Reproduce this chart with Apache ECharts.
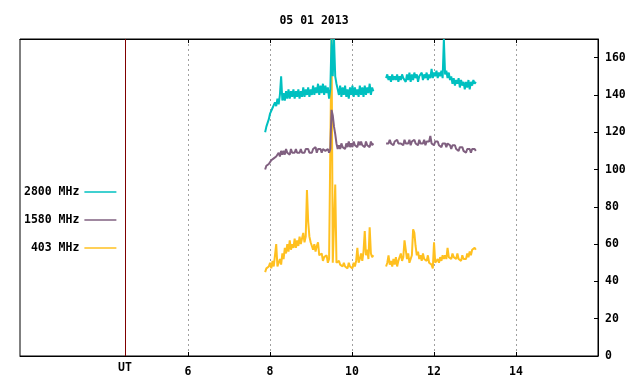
<!DOCTYPE html>
<html><head><meta charset="utf-8">
<script src="https://cdn.jsdelivr.net/npm/echarts@6/dist/echarts.min.js"></script>
<style>html,body{margin:0;padding:0;background:#fff}#c{width:640px;height:384px}</style>
</head><body><div id="c"></div>
<script>
const title = '05 01 2013';
const seriesNames = ['2800 MHz', '1580 MHz', '403 MHz'];
const xTicks = [6, 8, 10, 12, 14];
const yTicks = [0, 20, 40, 60, 80, 100, 120, 140, 160];
const utTime = 4.46;
const seg1Start = 7.88, seg2Start = 10.83, sampleStep = 0.03;

const f2800a = [120,123,125,127,130,129,133,132,136,134,138,135,140,150,137,141,137,142,138,143,138,142,139,143,138,142,139,143,138,142,139,144,139,143,140,144,139,143,140,145,140,144,141,146,140,145,141,146,140,145,141,144,138,143,170,150,170,150,146,143,140,145,139,144,140,145,139,143,138,144,140,145,139,144,140,143,139,145,140,144,139,145,140,144,141,146,140,144,142];
const f2800b = [149,151,148,150,147,151,148,150,148,151,147,150,148,151,149,150,147,151,148,152,147,151,148,152,149,151,147,150,149,152,148,151,149,152,148,151,149,154,149,152,150,153,149,152,150,153,149,170,151,153,149,152,148,150,146,149,145,148,146,149,144,148,145,147,143,147,144,148,143,147,145,148,146,147];
const f1580a = [100,102,101,103,103,105,104,106,105,107,106,109,107,110,108,110,108,111,109,110,108,111,109,110,109,111,109,110,109,111,109,110,109,111,110,111,109,110,109,111,110,112,109,111,110,111,109,111,110,110,109,111,109,111,132,129,123,119,114,111,113,111,114,112,113,111,114,112,115,112,114,112,115,113,114,112,115,113,115,113,114,112,115,113,114,112,115,113,114];
const f1580b = [114,115,114,116,114,115,113,115,114,116,114,115,114,115,113,116,114,115,114,116,113,115,114,116,114,115,113,116,114,115,114,116,113,115,114,115,118,114,115,113,115,114,115,113,114,112,114,113,114,112,114,113,113,111,113,112,113,111,112,110,112,111,112,110,111,109,111,110,111,109,111,110,111,110];
const f403a = [45,47,46,48,50,47,51,48,47,60,48,50,52,49,55,52,58,55,60,56,62,57,60,58,63,58,62,59,64,60,63,66,61,64,89,72,64,61,62,57,60,56,59,61,54,53,55,51,53,52,54,50,52,51,170,50,51,92,50,49,51,49,50,48,50,48,49,47,50,48,49,47,50,48,51,58,50,52,55,51,56,67,54,57,52,69,55,53,54];
const f403b = [48,50,54,49,51,48,52,49,53,48,51,50,55,51,53,62,57,52,55,50,51,54,68,66,59,54,56,52,54,51,55,52,53,51,54,50,51,49,47,61,50,49,52,50,53,51,54,52,54,52,58,53,54,52,55,53,54,52,55,52,53,51,54,52,53,52,55,53,56,54,57,56,58,57];

const colors = {'2800 MHz': '#00c0c0', '1580 MHz': '#806080', '403 MHz': '#ffc020'};

function build(a, b) {
  const out = [];
  a.forEach((v, i) => out.push([seg1Start + i * sampleStep, v]));
  out.push([(seg1Start + (a.length - 1) * sampleStep + seg2Start) / 2, null]);
  b.forEach((v, i) => out.push([seg2Start + i * sampleStep, v]));
  return out;
}
const dataMap = {
  '2800 MHz': build(f2800a, f2800b),
  '1580 MHz': build(f1580a, f1580b),
  '403 MHz': build(f403a, f403b)
};

const font = "'DejaVu Sans Mono', 'Liberation Mono', monospace";
const drawOrder = ['403 MHz', '1580 MHz', '2800 MHz'];
const series = drawOrder.map((n, k) => ({
  name: n, type: 'line', data: dataMap[n], symbol: 'none', showSymbol: false,
  connectNulls: false, animation: false,
  lineStyle: {color: colors[n], width: 2}, itemStyle: {color: colors[n]},
  markLine: k === 0 ? {
    symbol: 'none', silent: true, animation: false,
    lineStyle: {color: '#800000', type: 'solid', width: 1},
    label: {show: true, position: 'start', formatter: 'UT', distance: 6,
      fontFamily: font, fontWeight: 'bold', fontSize: 11.5, color: '#000'},
    data: [{xAxis: utTime}]
  } : undefined
}));

const chart = echarts.init(document.getElementById('c'), null, {renderer: 'canvas'});
chart.setOption({
  animation: false,
  backgroundColor: '#fff',
  title: {text: title, left: 309, textAlign: 'center', top: 10,
    textStyle: {fontFamily: font, fontWeight: 'bold', fontSize: 11.5, color: '#000'}},
  grid: {left: 20, right: 42, top: 39, bottom: 28, show: true, borderColor: '#000', borderWidth: 1},
  legend: {
    data: seriesNames.map(n => ({name: n, icon: 'rect'})), orient: 'vertical', left: 24, top: 186, align: 'right',
    itemWidth: 32, itemHeight: 1.5, itemGap: 16, padding: 0,
    formatter: n => n.padStart(8, ' '),
    textStyle: {fontFamily: font, fontWeight: 'bold', fontSize: 11.5, color: '#000'}
  },
  xAxis: [{
    type: 'value', min: 1.9, max: 16, position: 'bottom',
    axisLine: {show: true, lineStyle: {color: '#000'}},
    axisTick: {show: true, inside: true, length: 4, customValues: xTicks, lineStyle: {color: '#000'}},
    axisLabel: {customValues: xTicks, margin: 10, fontFamily: font, fontWeight: 'bold', fontSize: 11.5, color: '#000'},
    splitLine: {show: true, lineStyle: {color: '#a0a0a0', type: [2, 3], width: 1}}
  }, {
    type: 'value', min: 1.9, max: 16, position: 'top',
    axisLine: {show: true, lineStyle: {color: '#000'}},
    axisTick: {show: true, inside: true, length: 4, customValues: xTicks, lineStyle: {color: '#000'}},
    axisLabel: {show: false}, splitLine: {show: false}
  }],
  yAxis: {
    type: 'value', min: 0, max: 170, position: 'right',
    axisLine: {show: true, lineStyle: {color: '#000'}},
    axisTick: {show: true, inside: true, length: 4, customValues: yTicks, lineStyle: {color: '#000'}},
    axisLabel: {customValues: yTicks, margin: 7, fontFamily: font, fontWeight: 'bold', fontSize: 11.5, color: '#000'},
    splitLine: {show: false}
  },
  series: series
});
</script></body></html>
